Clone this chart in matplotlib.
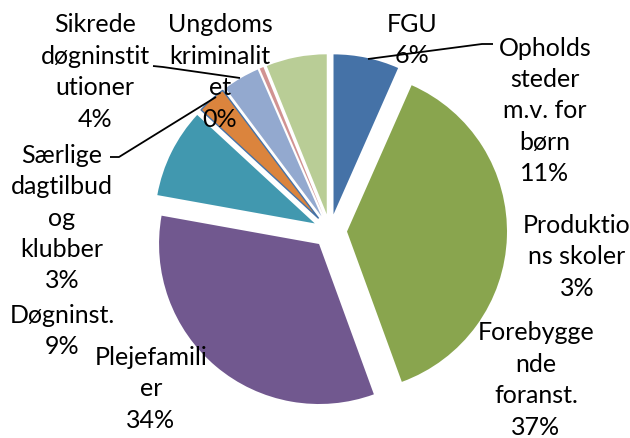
import matplotlib
matplotlib.use("Agg")
import matplotlib.pyplot as plt

# slice values (clockwise from 12 o'clock)
slice_names = ["FGU", "Forebyggende foranst.", "Plejefamilier", "Døgninst.",
               "Særlige dagtilbud og klubber", "Sikrede døgninstitutioner",
               "Ungdomskriminalitet", "Øvrige"]
slice_values = [6.6, 37.7, 33.3, 9.0, 2.9, 3.7, 0.4, 6.1]
slice_colors = ["#4572A7", "#89A54E", "#71588F", "#4198AF",
                "#DB843D", "#93A9CF", "#D19392", "#B9CD96"]

# data labels as shown in the chart
label_texts = ["FGU\n6%", "Opholds\nsteder\nm.v. for\nbørn\n11%",
               "Produktio\nns skoler\n3%", "Forebygge\nnde\nforanst.\n37%",
               "Plejefamili\ner\n34%", "Døgninst.\n9%",
               "Særlige\ndagtilbud\nog\nklubber\n3%",
               "Sikrede\ndøgninstit\nutioner\n4%",
               "Ungdoms\nkriminalit\net\n0%"]

W, H = 630, 439
fig = plt.figure(figsize=(W / 100, H / 100), dpi=100)
ax = fig.add_axes([0, 0, 1, 1])

def Y(y):
    return H - y

cx, cy, R = 330, 232, 160
wedges, _ = ax.pie(slice_values, colors=slice_colors, startangle=90,
                   counterclock=False, radius=R, center=(cx, Y(cy)),
                   explode=[17] * len(slice_values),
                   wedgeprops=dict(linewidth=0))
wedges[4].set_edgecolor("#4572A7")
wedges[4].set_linewidth(1.0)

ax.set_xlim(0, W)
ax.set_ylim(0, H)
ax.set_aspect("equal")
ax.axis("off")

# label positions (pixel centers)
label_pos = [(412, 40), (545, 111), (577, 257), (536, 380), (151, 389),
             (62, 331), (62, 218), (95, 72), (220, 72)]
for txt, (x, y) in zip(label_texts, label_pos):
    ax.text(x, Y(y), txt, ha="center", va="center", fontsize=18,
            family="Lato", linespacing=1.44, color="black")

# leader lines
leaders = [[(368, 60), (482, 45), (493, 45)],
           [(153, 67), (163, 68), (240, 79)],
           [(110, 158), (119, 158), (216, 98)]]
for pts in leaders:
    ax.plot([p[0] for p in pts], [Y(p[1]) for p in pts], color="black",
            lw=1.3, solid_capstyle="butt")

fig.savefig("out.png", dpi=100, facecolor="white")
